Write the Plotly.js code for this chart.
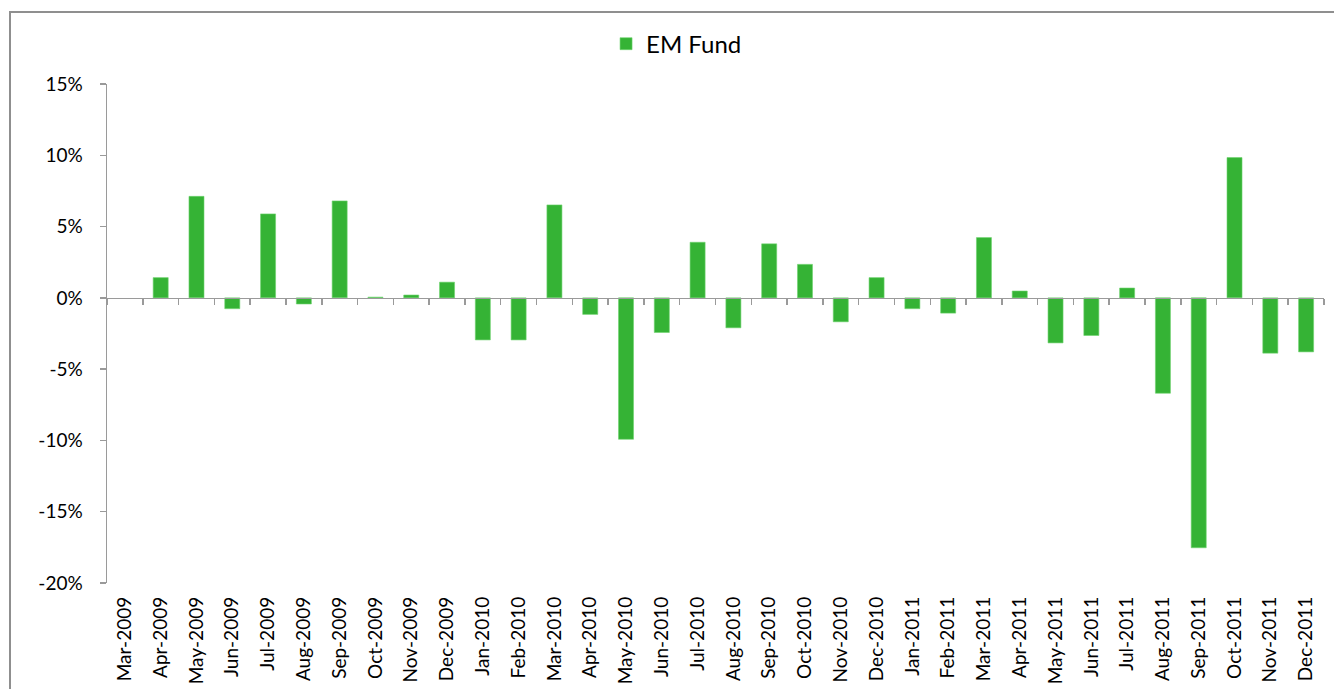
<!DOCTYPE html>
<html>
<head>
<meta charset="utf-8">
<script src="https://cdn.plot.ly/plotly-3.0.1.min.js"></script>
<style>
  html, body { margin: 0; padding: 0; width: 1334px; height: 689px; overflow: hidden; background: #fff; }
  #frame { position: absolute; left: 9px; top: 11px; width: 1400px; height: 800px; border: 2px solid #8f8f8f; box-sizing: border-box; pointer-events: none; }
  #chart { position: absolute; left: 0; top: 0; width: 1334px; height: 689px; }
</style>
</head>
<body>
<div id="chart"></div>
<div id="frame"></div>
<script>
const months = ["Mar-2009","Apr-2009","May-2009","Jun-2009","Jul-2009","Aug-2009","Sep-2009","Oct-2009","Nov-2009","Dec-2009",
  "Jan-2010","Feb-2010","Mar-2010","Apr-2010","May-2010","Jun-2010","Jul-2010","Aug-2010","Sep-2010","Oct-2010","Nov-2010","Dec-2010",
  "Jan-2011","Feb-2011","Mar-2011","Apr-2011","May-2011","Jun-2011","Jul-2011","Aug-2011","Sep-2011","Oct-2011","Nov-2011","Dec-2011"];
const emFund = [null, 1.42, 7.12, -0.76, 5.89, -0.43, 6.80, 0.05, 0.20, 1.10,
  -2.95, -2.95, 6.52, -1.16, -9.92, -2.43, 3.90, -2.10, 3.79, 2.35, -1.68, 1.42,
  -0.76, -1.07, 4.23, 0.48, -3.16, -2.64, 0.69, -6.69, -17.53, 9.84, -3.88, -3.79];
const yTicks = [-20, -15, -10, -5, 0, 5, 10, 15];
const yTickText = yTicks.map(v => v + "%");
const boundaries = months.map((m, i) => i - 0.5).concat([months.length - 0.5]);

const FONT = "Lato, 'Open Sans', sans-serif";

const traces = [
  {
    type: "bar",
    name: "EM Fund",
    x: months,
    y: emFund,
    marker: { color: "#35b335", line: { color: "#6fd36f", width: 0.6 } },
    hoverinfo: "x+y"
  },
  {
    type: "scatter",
    mode: "markers",
    x: [0],
    y: [0],
    xaxis: "x2",
    yaxis: "y",
    marker: { opacity: 0, size: 1 },
    showlegend: false,
    hoverinfo: "skip"
  }
];

const layout = {
  width: 1334,
  height: 689,
  margin: { l: 107, r: 10, t: 84, b: 106 },
  paper_bgcolor: "rgba(0,0,0,0)",
  plot_bgcolor: "rgba(0,0,0,0)",
  font: { family: FONT, size: 19, color: "#000" },
  bargap: 0.58,
  showlegend: true,
  legend: {
    orientation: "h",
    x: 0.468, xanchor: "center",
    y: 1.08, yanchor: "middle",
    font: { family: FONT, size: 24, color: "#000" },
    itemwidth: 30
  },
  xaxis: {
    type: "category",
    categoryorder: "array",
    categoryarray: months,
    range: [-0.5, months.length - 0.5],
    showline: false,
    showgrid: false,
    zeroline: false,
    ticks: "",
    tickangle: -90,
    ticklabelstandoff: 9,
    tickfont: { family: FONT, size: 19, color: "#000" },
    fixedrange: true
  },
  xaxis2: {
    overlaying: "x",
    anchor: "free",
    position: 20 / 35,
    range: [-0.5, months.length - 0.5],
    showline: true,
    linecolor: "#9a9a9a",
    linewidth: 1.5,
    showgrid: false,
    zeroline: false,
    ticks: "outside",
    ticklen: 6,
    tickwidth: 1.5,
    tickcolor: "#9a9a9a",
    tickmode: "array",
    tickvals: boundaries,
    showticklabels: false,
    fixedrange: true
  },
  yaxis: {
    range: [-20, 15],
    tickmode: "array",
    tickvals: yTicks,
    ticktext: yTickText,
    showline: true,
    linecolor: "#9a9a9a",
    linewidth: 1.5,
    ticks: "outside",
    ticklen: 6,
    tickwidth: 1.5,
    tickcolor: "#9a9a9a",
    showgrid: false,
    zeroline: false,
    ticklabelstandoff: 13,
    tickfont: { family: FONT, size: 19, color: "#000" },
    fixedrange: true
  }
};

Plotly.newPlot("chart", traces, layout, { displayModeBar: false, staticPlot: true });
</script>
</body>
</html>
